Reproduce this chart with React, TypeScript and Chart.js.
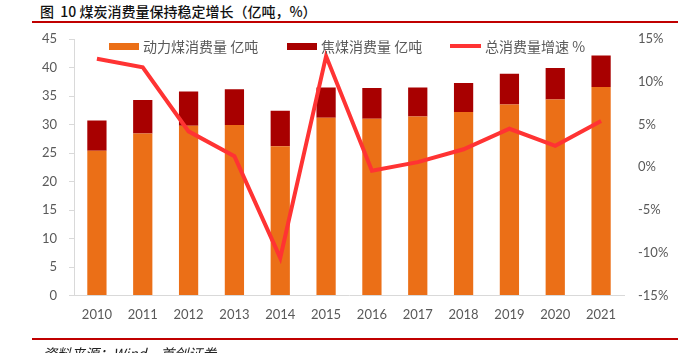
import React, { useEffect, useRef } from "react";
import { Chart, registerables } from "chart.js";

Chart.register(...registerables);

const years = ["2010", "2011", "2012", "2013", "2014", "2015", "2016", "2017", "2018", "2019", "2020", "2021"];
const thermalCoal = [25.4, 28.4, 29.8, 29.9, 26.2, 31.2, 31.0, 31.4, 32.2, 33.5, 34.4, 36.6];
const cokingCoal = [5.3, 5.9, 6.0, 6.3, 6.2, 5.3, 5.4, 5.1, 5.1, 5.4, 5.5, 5.5];
const totalGrowth = [12.7, 11.7, 4.2, 1.3, -10.6, 13.0, -0.4, 0.6, 2.1, 4.5, 2.5, 5.4];

const legendLabels = ["动力煤消费量 亿吨", "焦煤消费量 亿吨", "总消费量增速 %"];

const ORANGE = "#EB6F17";
const DARKRED = "#A80000";
const LINE = "#FF3333";
const GRAY = "#595959";
const AXIS = "#D9D9D9";
const TICKFONT = { family: "Lato, 'Liberation Sans', sans-serif", size: 13 };

export default function App() {
  const ref = useRef<HTMLCanvasElement>(null);

  useEffect(() => {
    if (!ref.current) return;
    const chart = new Chart(ref.current, {
      type: "bar",
      data: {
        labels: years,
        datasets: [
          {
            type: "line",
            label: legendLabels[2],
            data: totalGrowth,
            yAxisID: "y1",
            borderColor: LINE,
            backgroundColor: LINE,
            borderWidth: 4,
            pointRadius: 0,
            tension: 0,
            order: 0,
          } as any,
          {
            label: legendLabels[0],
            data: thermalCoal,
            backgroundColor: ORANGE,
            stack: "s",
            yAxisID: "y",
            order: 1,
            categoryPercentage: 1,
            barPercentage: 0.42,
          },
          {
            label: legendLabels[1],
            data: cokingCoal,
            backgroundColor: DARKRED,
            stack: "s",
            yAxisID: "y",
            order: 1,
            categoryPercentage: 1,
            barPercentage: 0.42,
          },
        ],
      },
      options: {
        animation: false,
        responsive: false,
        maintainAspectRatio: false,
        layout: { padding: { top: 39, left: 0, right: 0, bottom: 0 } },
        plugins: { legend: { display: false }, tooltip: { enabled: false }, title: { display: false } },
        scales: {
          x: {
            stacked: true,
            grid: { display: false, drawTicks: false },
            border: { display: true, color: AXIS, width: 1 },
            ticks: { color: GRAY, font: TICKFONT, padding: 12, maxRotation: 0 },
            afterFit: (s: any) => {
              s.height = 57.5;
            },
          },
          y: {
            position: "left",
            stacked: true,
            min: 0,
            max: 45,
            ticks: { stepSize: 5, color: GRAY, font: TICKFONT, padding: 12 },
            grid: { display: true, drawOnChartArea: false, drawTicks: true, tickLength: 5, color: AXIS },
            border: { display: true, color: AXIS, width: 1 },
            afterFit: (s: any) => {
              s.width = 74;
            },
          },
          y1: {
            position: "right",
            min: -15,
            max: 15,
            ticks: {
              stepSize: 5,
              color: GRAY,
              font: TICKFONT,
              padding: 14,
              callback: (v: any) => v + "%",
            },
            grid: { display: false, drawOnChartArea: false, drawTicks: false },
            border: { display: false },
            afterFit: (s: any) => {
              s.width = 69;
            },
          },
        },
      },
    });
    return () => chart.destroy();
  }, []);

  const legendText: React.CSSProperties = {
    position: "absolute",
    top: 37,
    height: 18,
    lineHeight: "18px",
    fontSize: 14,
    color: GRAY,
    fontFamily: "'Noto Sans CJK SC', sans-serif",
    whiteSpace: "nowrap",
  };

  return (
    <div
      style={{
        position: "fixed",
        left: 0,
        top: 0,
        width: 693,
        height: 353,
        background: "#fff",
        overflow: "hidden",
      }}
    >
      <div
        style={{
          position: "absolute",
          left: 40,
          top: 2,
          fontSize: 14,
          lineHeight: "18px",
          fontWeight: 500,
          color: "#111",
          fontFamily: "'Noto Sans CJK SC', sans-serif",
          whiteSpace: "pre",
        }}
      >
        {"图  10 煤炭消费量保持稳定增长（亿吨，%）"}
      </div>
      <div style={{ position: "absolute", left: 32, top: 21, width: 646, height: 2, background: "#C00000" }} />
      <canvas ref={ref} width={693} height={353} style={{ position: "absolute", left: 0, top: 0, width: 693, height: 353 }} />
      <div style={{ position: "absolute", left: 109, top: 43, width: 30, height: 7, background: ORANGE }} />
      <div style={{ ...legendText, left: 143 }}>{legendLabels[0]}</div>
      <div style={{ position: "absolute", left: 287, top: 43, width: 30, height: 7, background: DARKRED }} />
      <div style={{ ...legendText, left: 321 }}>{legendLabels[1]}</div>
      <div style={{ position: "absolute", left: 450, top: 44, width: 31, height: 4, background: LINE }} />
      <div style={{ ...legendText, left: 485 }}>{legendLabels[2]}</div>
      <div style={{ position: "absolute", left: 32, top: 338, width: 646, height: 2, background: "#C00000" }} />
      <div
        style={{
          position: "absolute",
          left: 43,
          top: 344,
          fontSize: 14,
          lineHeight: "18px",
          fontStyle: "italic",
          color: "#222",
          fontFamily: "'Noto Sans CJK SC', serif",
          whiteSpace: "nowrap",
        }}
      >
        资料来源：Wind，首创证券
      </div>
    </div>
  );
}
